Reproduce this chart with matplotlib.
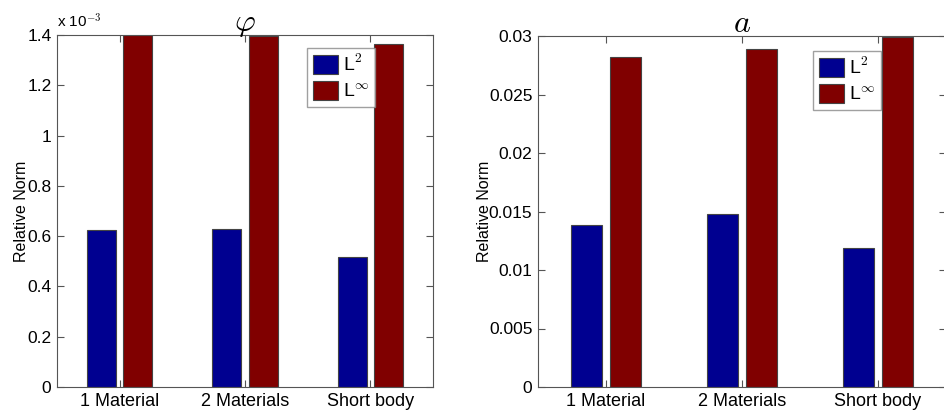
import matplotlib
matplotlib.use('Agg')
import matplotlib.pyplot as plt
import numpy as np
from matplotlib.ticker import FuncFormatter

plt.rcParams['font.family'] = ['Liberation Sans', 'DejaVu Sans']
plt.rcParams['mathtext.fontset'] = 'cm'

cases = ['1 Material', '2 Materials', 'Short body']
labels = [r'L$^\mathsf{2}$', r'L$^\mathsf{\infty}$']
phi_l2 = [0.626e-3, 0.628e-3, 0.516e-3]
phi_linf = [1.40e-3, 1.396e-3, 1.364e-3]
a_l2 = [0.01387, 0.01479, 0.01185]
a_linf = [0.02823, 0.02886, 0.02989]

blue = '#000090'
red = '#800000'
grey = '#555555'

fig = plt.figure(figsize=(9.44, 4.12), dpi=100)
ax1 = fig.add_axes([57/944, 25/412, 376/944, 352/412])
ax2 = fig.add_axes([538/944, 25/412, 408/944, 351/412])


def draw(ax, l2, linf, ymax, title, leg_xy):
    x = np.arange(1, len(cases) + 1)
    w = 0.23
    ax.bar(x - 0.145, l2, w, color=blue, edgecolor='#444444', linewidth=0.8, label=labels[0])
    ax.bar(x + 0.145, linf, w, color=red, edgecolor='#444444', linewidth=0.8, label=labels[1])
    ax.set_xlim(0.5, 3.5)
    ax.set_ylim(0, ymax)
    ax.set_xticks(x)
    ax.set_xticklabels(cases, fontsize=13)
    ax.tick_params(direction='in', top=True, right=True, length=5, color=grey,
                   labelsize=12.5, pad=4)
    ax.tick_params(axis='x', labelsize=13)
    for s in ax.spines.values():
        s.set_color(grey)
        s.set_linewidth(0.8)
    ax.set_ylabel('Relative Norm', fontsize=11.5)
    ax.set_title(title, fontsize=23, pad=3)
    leg = ax.legend(loc='upper left', bbox_to_anchor=leg_xy, fancybox=False,
                    edgecolor='#888888', fontsize=14, handlelength=1.3,
                    handleheight=1.1, handletextpad=0.25, borderpad=0.3,
                    labelspacing=0.3, borderaxespad=0)
    leg.get_frame().set_linewidth(1.0)


draw(ax1, phi_l2, phi_linf, 1.4e-3, r'$\varphi$', (0.665, 0.963))
ax1.set_yticks(np.arange(0, 1.41e-3, 0.2e-3))
ax1.yaxis.set_major_formatter(FuncFormatter(lambda v, p: '%g' % round(v * 1e3, 3)))
ax1.yaxis.labelpad = -1.5
ax1.text(0.0, 1.012, r'x 10$^{\mathsf{-3}}$', transform=ax1.transAxes, fontsize=11,
         ha='left', va='bottom')

draw(ax2, a_l2, a_linf, 0.03, r'$a$', (0.674, 0.957))
ax2.set_yticks(np.arange(0, 0.0301, 0.005))
ax2.yaxis.set_major_formatter(FuncFormatter(lambda v, p: '%g' % round(v, 4)))
ax2.yaxis.labelpad = -2.5

fig.savefig('out.png', dpi=100)
